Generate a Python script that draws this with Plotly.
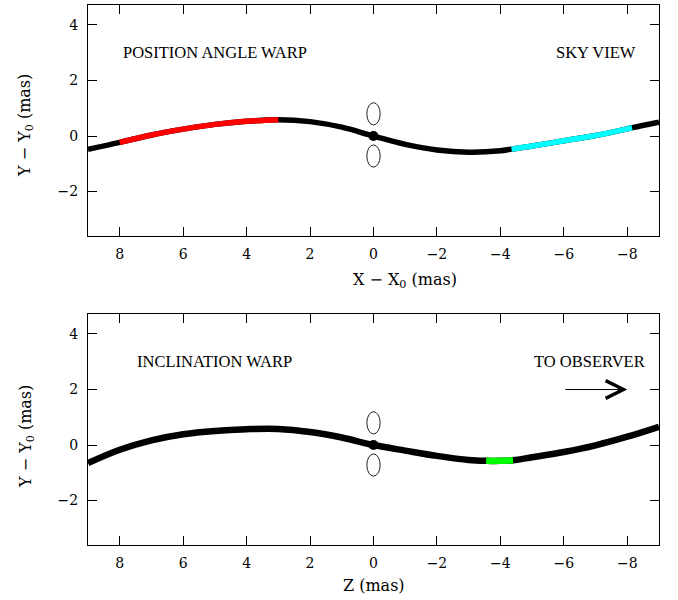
import plotly.graph_objects as go

# ---- data ----
top_x = [9, 8, 7, 6, 5, 4, 3, 2, 1, 0, -1, -2, -3, -4, -4.35, -5, -6, -7, -8, -8.15, -9]
top_y = [-0.48, -0.23, 0.04, 0.25, 0.42, 0.53, 0.59, 0.52, 0.32, 0.0, -0.30, -0.50, -0.58,
         -0.53, -0.47, -0.36, -0.17, 0.02, 0.26, 0.30, 0.50]

bot_x = [9, 8, 7, 6, 5, 4, 3, 2, 1, 0, -1, -2, -3, -3.55, -4, -4.4, -5, -6, -7, -8, -9]
bot_y = [-0.65, -0.17, 0.17, 0.39, 0.51, 0.57, 0.58, 0.47, 0.27, 0.0, -0.20, -0.39, -0.54,
         -0.57, -0.57, -0.55, -0.44, -0.25, -0.01, 0.30, 0.66]

red_range = [3, 8]          # highlighted part of top curve
cyan_range = [-8.15, -4.35]  # highlighted part of top curve
green_range = [-4.4, -3.55]  # highlighted part of bottom curve

core_x = [0]
core_y = [0]
lobe_x = [0, 0]
lobe_y = [0.80, -0.72]
lobe_half_w = 0.21
lobe_half_h = 0.40

arrow_from = [-6, 2]
arrow_to = [-8, 2]

x_ticks = [8, 6, 4, 2, 0, -2, -4, -6, -8]
y_ticks = [-2, 0, 2, 4]

FONT = "Liberation Serif"
FONT2 = "DejaVu Serif"


def seg(xs, ys, rng):
    lo, hi = rng
    pts = [(a, b) for a, b in zip(xs, ys) if lo <= a <= hi]
    return [p[0] for p in pts], [p[1] for p in pts]


fig = go.Figure()

panels = [
    ("x", "y", top_x, top_y, [(red_range, "#ff0000"), (cyan_range, "#00ffff")], 5.5),
    ("x2", "y2", bot_x, bot_y, [(green_range, "#00ff00")], 6.5),
]
for xa, ya, xs, ys, hls, lw in panels:
    fig.add_trace(go.Scatter(x=xs, y=ys, mode="lines", xaxis=xa, yaxis=ya,
                             line=dict(color="black", width=lw, shape="spline", smoothing=1.0),
                             showlegend=False, hoverinfo="skip"))
    for rng, col in hls:
        sx, sy = seg(xs, ys, rng)
        fig.add_trace(go.Scatter(x=sx, y=sy, mode="lines", xaxis=xa, yaxis=ya,
                                 line=dict(color=col, width=lw, shape="spline", smoothing=1.0),
                                 showlegend=False, hoverinfo="skip"))
    fig.add_trace(go.Scatter(x=core_x, y=core_y, mode="markers", xaxis=xa, yaxis=ya,
                             marker=dict(color="black", size=10),
                             showlegend=False, hoverinfo="skip"))
    for lx, ly in zip(lobe_x, lobe_y):
        fig.add_shape(type="circle", xref=xa, yref=ya,
                      x0=lx - lobe_half_w, x1=lx + lobe_half_w,
                      y0=ly - lobe_half_h, y1=ly + lobe_half_h,
                      line=dict(color="#222222", width=1))

W, H = 678, 600
xdom = [88 / W, 659 / W]
axis_common = dict(
    showline=True, linecolor="black", linewidth=1, mirror="ticks",
    ticks="inside", ticklen=9, tickwidth=1, tickcolor="black",
    showgrid=False, zeroline=False, automargin=False,
    tickfont=dict(family=FONT2, size=14, color="black"),
)
fig.update_layout(
    width=W, height=H,
    margin=dict(l=0, r=0, t=0, b=0),
    paper_bgcolor="white", plot_bgcolor="white",
    xaxis=dict(domain=xdom, range=[9, -9], tickvals=x_ticks, anchor="y",
               ticklabelstandoff=5, **axis_common),
    yaxis=dict(domain=[1 - 236 / H, 1 - 5 / H], range=[-3.6, 4.72], tickvals=y_ticks,
               anchor="x", ticklabelstandoff=6, **axis_common),
    xaxis2=dict(domain=xdom, range=[9, -9], tickvals=x_ticks, anchor="y2",
                ticklabelstandoff=5, **axis_common),
    yaxis2=dict(domain=[1 - 545 / H, 1 - 314 / H], range=[-3.6, 4.72], tickvals=y_ticks,
                anchor="x2", ticklabelstandoff=6, **axis_common),
)

tf = dict(family=FONT, size=16.5, color="black")
af = dict(family=FONT2, size=16, color="black")
ann = [
    dict(text="POSITION ANGLE WARP", x=5, y=3, xref="x", yref="y", font=tf),
    dict(text="SKY VIEW", x=-7, y=3, xref="x", yref="y", font=tf),
    dict(text="INCLINATION WARP", x=5, y=3, xref="x2", yref="y2", font=tf),
    dict(text="TO OBSERVER", x=-6.8, y=3, xref="x2", yref="y2", font=tf),
    dict(text="X \u2212 X<sub>0</sub> (mas)", x=405 / W, y=1 - 280 / H, xref="paper",
         yref="paper", font=af),
    dict(text="Z (mas)", x=374 / W, y=1 - 585 / H, xref="paper", yref="paper", font=af),
    dict(text="Y \u2212 Y<sub>0</sub> (mas)", x=26 / W, y=1 - 126 / H, xref="paper",
         yref="paper", textangle=-90, font=af),
    dict(text="Y \u2212 Y<sub>0</sub> (mas)", x=26 / W, y=1 - 437 / H, xref="paper",
         yref="paper", textangle=-90, font=af),
]
for a in ann:
    fig.add_annotation(showarrow=False, xanchor="center", yanchor="middle", **a)

fig.add_annotation(x=arrow_to[0], y=arrow_to[1], ax=arrow_from[0], ay=arrow_from[1],
                   xref="x2", yref="y2", axref="x2", ayref="y2", text="",
                   showarrow=True, arrowhead=5, arrowsize=3.5, arrowwidth=1,
                   arrowcolor="black")

fig.write_html("out.html", config={"displayModeBar": False},
               post_script="document.body.style.margin='0';document.body.style.overflow='hidden';")
